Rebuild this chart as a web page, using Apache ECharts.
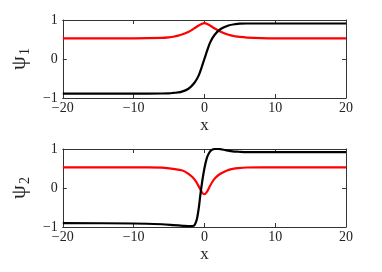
<!DOCTYPE html>
<html><head><meta charset="utf-8">
<script src="https://cdn.jsdelivr.net/npm/echarts@6/dist/echarts.min.js"></script>
<style>html,body{margin:0;padding:0;background:#fff}#c{width:382px;height:272px}</style>
</head><body><div id="c"></div>
<script>
// Top panel (psi_1)
var x1 = [-20,-10,-6,-5,-4.4,-3.4,-2.3,-1.4,-0.8,-0.4,0,0.4,0.8,1.4,2.3,3.4,4.4,5,6,8,10,20];
var psi1Black = [-0.89,-0.89,-0.885,-0.88,-0.87,-0.85,-0.77,-0.61,-0.42,-0.22,0.0,0.22,0.42,0.61,0.77,0.86,0.895,0.905,0.91,0.91,0.91,0.91];
var psi1Red = [0.53,0.53,0.54,0.555,0.57,0.615,0.69,0.79,0.86,0.90,0.92,0.90,0.86,0.79,0.70,0.62,0.58,0.565,0.55,0.535,0.53,0.53];
// Bottom panel (psi_2)
var x2Black = [-20,-10,-6,-4.4,-3,-2,-1.5,-1.3,-1.04,-0.8,-0.6,-0.3,0,0.3,0.6,1,1.5,2,3,4,4.8,6,8,20];
var psi2Black = [-0.90,-0.91,-0.93,-0.95,-0.97,-0.98,-0.97,-0.92,-0.78,-0.52,-0.22,0.18,0.5,0.74,0.88,0.97,1.0,1.0,0.97,0.94,0.93,0.92,0.92,0.92];
var x2Red = [-20,-8,-6,-4.4,-3.1,-2.4,-1.7,-1.2,-0.7,-0.35,0,0.35,0.7,1.2,1.6,2.2,3.2,4,4.8,6,8,20];
var psi2Red = [0.53,0.53,0.52,0.49,0.45,0.38,0.28,0.17,0.01,-0.11,-0.16,-0.1,0.02,0.18,0.27,0.36,0.45,0.49,0.51,0.525,0.53,0.53];
var xTicks = [-20,-10,0,10,20];
var yTicks = [-1,0,1];

function pairs(xs, ys){ return xs.map(function(x,i){ return [x, ys[i]]; }); }
var FONT = "'Liberation Serif', 'Times New Roman', serif";
function fmt(v){ return String(v).replace('-', '\u2212'); }

var grids = [
  {left:50, top:20, width:296, height:78},
  {left:50, top:149, width:296, height:78}
];
var xAxes = [], yAxes = [];
[0,1].forEach(function(g){
  xAxes.push({type:'value', gridIndex:g, min:xTicks[0], max:xTicks[xTicks.length-1], interval:10, position:'bottom',
    axisLine:{onZero:false, lineStyle:{color:'#333', width:1}},
    axisTick:{inside:true, length:4, lineStyle:{color:'#333'}},
    axisLabel:{color:'#222', fontFamily:FONT, fontSize:14, margin:3, formatter:fmt},
    splitLine:{show:false},
    name:'x', nameLocation:'middle', nameGap:19,
    nameTextStyle:{color:'#222', fontFamily:FONT, fontSize:17}});
  xAxes.push({type:'value', gridIndex:g, min:-20, max:20, interval:10, position:'top',
    axisLine:{onZero:false, lineStyle:{color:'#333', width:1}},
    axisTick:{inside:true, length:4, lineStyle:{color:'#333'}},
    axisLabel:{show:false}, splitLine:{show:false}});
  yAxes.push({type:'value', gridIndex:g, min:yTicks[0], max:yTicks[2], interval:1, position:'left',
    axisLine:{onZero:false, show:true, lineStyle:{color:'#333', width:1}},
    axisTick:{show:true, inside:true, length:4, lineStyle:{color:'#333'}},
    axisLabel:{color:'#222', fontFamily:FONT, fontSize:14, margin:5, formatter:fmt},
    splitLine:{show:false},
    name:'{a|\u03c8}{b|' + (g+1) + '}', nameLocation:'middle', nameGap:25, nameRotate:90,
    nameTextStyle:{rich:{a:{fontFamily:FONT, fontSize:22, color:'#222'},
                         b:{fontFamily:FONT, fontSize:14, color:'#222', padding:[12,0,0,1]}}}});
  yAxes.push({type:'value', gridIndex:g, min:-1, max:1, interval:1, position:'right',
    axisLine:{onZero:false, show:true, lineStyle:{color:'#333', width:1}},
    axisTick:{show:true, inside:true, length:4, lineStyle:{color:'#333'}},
    axisLabel:{show:false}, splitLine:{show:false}});
});

function line(g, xs, ys, color){
  return {type:'line', xAxisIndex:g*2, yAxisIndex:g*2, data:pairs(xs, ys), showSymbol:false,
    smooth:0.3, lineStyle:{color:color, width:2.2}, animation:false, z:3};
}
var chart = echarts.init(document.getElementById('c'), null, {renderer:'canvas'});
chart.setOption({
  animation:false,
  grid:grids, xAxis:xAxes, yAxis:yAxes,
  series:[
    line(0, x1, psi1Red, '#ff0000'),
    line(0, x1, psi1Black, '#000000'),
    line(1, x2Red, psi2Red, '#ff0000'),
    line(1, x2Black, psi2Black, '#000000')
  ]
});
</script></body></html>
